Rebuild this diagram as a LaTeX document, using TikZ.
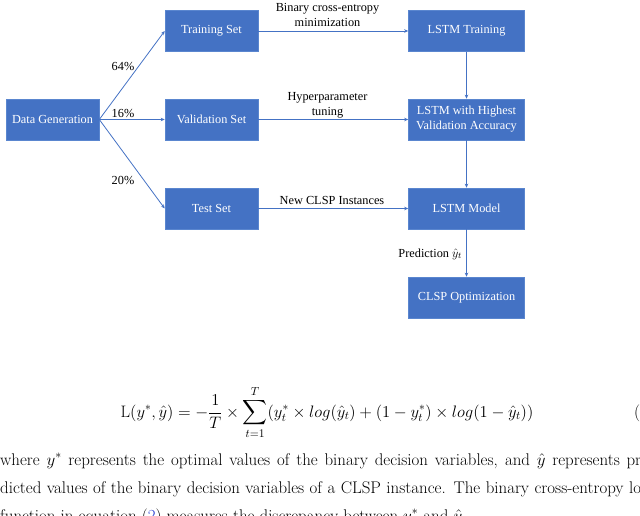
\documentclass[tikz,border=0pt]{standalone}
\usepackage{fix-cm}
\usepackage{fontspec}
\usepackage{amsmath}
\usetikzlibrary{arrows.meta}
\newfontfamily\diagfont{Liberation Serif}
\definecolor{boxblue}{HTML}{4472C4}
\definecolor{boxedge}{HTML}{5A86CF}
\definecolor{lineblue}{HTML}{4472C4}
\definecolor{refblue}{HTML}{2A3FD0}
\newcommand{\boxfnt}{\diagfont\fontsize{12.3}{15}\selectfont}
\newcommand{\parfnt}{\fontsize{16.9}{28}\selectfont}
\newcommand{\eqfnt}{\fontsize{16.6}{28}\selectfont}
\newcommand{\jline}[1]{\hbox to 653pt{#1}}
\begin{document}
\begin{tikzpicture}[x=1pt,y=-1pt,
  box/.style={rectangle, fill=boxblue, draw=boxedge, line width=0.6pt, text=white,
    font=\boxfnt, align=center, inner sep=0pt, minimum height=41pt},
  narrow/.style={box, minimum width=93pt},
  wide/.style={box, minimum width=116pt},
  conn/.style={draw=lineblue, line width=0.8pt, -{Stealth[length=4pt,width=3.5pt]}},
  lbl/.style={font=\boxfnt, text=black, align=center, inner sep=0pt},
  partext/.style={font=\parfnt, text=black, inner sep=0pt, anchor=base west}]
\useasboundingbox (0,0) rectangle (640,516);
\clip (0,0) rectangle (640,516);
% boxes
\node[narrow] (dg) at (52.5,119.5) {Data Generation};
\node[narrow] (ts) at (211.5,31) {Training Set};
\node[narrow] (vs) at (211.5,119.5) {Validation Set};
\node[narrow] (te) at (211.5,208.5) {Test Set};
\node[wide] (lt) at (466.5,31) {LSTM Training};
\node[wide] (lh) at (466.5,119.5) {LSTM with Highest\\Validation Accuracy};
\node[wide] (lm) at (466.5,208.5) {LSTM Model};
\node[wide] (co) at (466.5,297.5) {CLSP Optimization};
% connectors
\draw[conn] (dg.east) -- (ts.west);
\draw[conn] (dg.east) -- (vs.west);
\draw[conn] (dg.east) -- (te.west);
\draw[conn] (ts.east) -- (lt.west);
\draw[conn] (vs.east) -- (lh.west);
\draw[conn] (te.east) -- (lm.west);
\draw[conn] (lt.south) -- (lh.north);
\draw[conn] (lh.south) -- (lm.north);
\draw[conn] (lm.south) -- (co.north);
% labels
\node[lbl] (p64) at (123,66) {64\%};
\node[lbl] (p16) at (123,113) {16\%};
\node[lbl] (p20) at (123,180) {20\%};
\node[lbl] (bce) at (327.5,14.5) {Binary cross-entropy\\minimization};
\node[lbl] (hpt) at (327.5,105) {Hyperparameter\\tuning};
\node[lbl] (ncl) at (332,200) {New CLSP Instances};
\node[lbl, anchor=east] (pred) at (462,254) {Prediction $\hat{y}_t$};
% equation and text
\node[font=\eqfnt, inner sep=0pt, anchor=base] (eq) at (327,417)
  {$\displaystyle \mathrm{L}(y^*,\hat{y}) = -\frac{1}{T}\times\sum_{t=1}^{T}(y_t^*\times log(\hat{y}_t)+(1-y_t^*)\times log(1-\hat{y}_t))$};
\node[partext] (eqn) at (634,417) {(2)};
\node[partext] (l1) at (0,465) {\jline{where $y^*$ represents the optimal values of the binary decision variables, and $\hat{y}$ represents pre-}};
\node[partext] (l2) at (0,493) {\jline{dicted values of the binary decision variables of a CLSP instance. The binary cross-entropy loss}};
\node[partext] (l3) at (0,521) {function in equation ({\color{refblue}2}) measures the discrepancy between $y^*$ and $\hat{y}$.};
\end{tikzpicture}
\end{document}
